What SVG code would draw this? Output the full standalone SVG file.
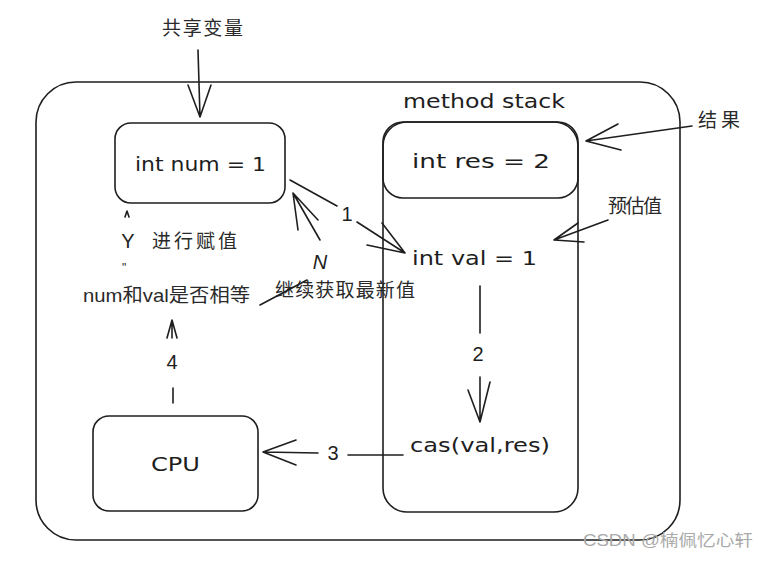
<svg xmlns="http://www.w3.org/2000/svg" width="770" height="565" viewBox="0 0 770 565">
<defs>
<style>
.box{fill:none;stroke:#1e1e1e;stroke-width:1.6}
.ln{fill:none;stroke:#1e1e1e;stroke-width:1.6;stroke-linecap:round;stroke-linejoin:round}
.t{font-family:"Liberation Sans","Noto Sans CJK SC",sans-serif;fill:#1e1e1e}
.code{font-family:"DejaVu Sans",sans-serif;font-size:20px}
.cn{font-size:19px;fill:#2a2a2a}
.lbl{font-size:20px;text-anchor:middle}
</style>
</defs>
<rect width="770" height="565" fill="#fff"/>
<g id="outer"><rect class="box" x="36" y="82" width="644" height="458" rx="40"/></g>
<g id="num"><rect class="box" x="115" y="123" width="170" height="80" rx="16"/><text class="t code" x="135" y="171" textLength="131" lengthAdjust="spacingAndGlyphs">int num = 1</text></g>
<g id="stack">
<rect class="box" x="383" y="122" width="195" height="390" rx="24"/>
<text class="t code" x="403" y="108" textLength="162" lengthAdjust="spacingAndGlyphs">method stack</text>
<text class="t code" x="412" y="265" textLength="125" lengthAdjust="spacingAndGlyphs">int val = 1</text>
<text class="t code" x="410" y="452" textLength="140" lengthAdjust="spacingAndGlyphs">cas(val,res)</text>
</g>
<g id="res"><rect class="box" x="383" y="122" width="195" height="76" rx="20"/><text class="t code" x="412" y="168" textLength="138" lengthAdjust="spacingAndGlyphs">int res = 2</text></g>
<g id="cpu"><rect class="box" x="93" y="416" width="165" height="95" rx="16"/><text class="t code" x="151" y="471" textLength="49" lengthAdjust="spacingAndGlyphs">CPU</text></g>
<g id="labels">
<text class="t cn" x="162" y="35" textLength="81">共享变量</text>
<text class="t cn" x="698" y="127" textLength="42">结果</text>
<text class="t cn" x="608" y="213" textLength="54">预估值</text>
<text class="t cn" x="152" y="248" textLength="85">进行赋值</text>
<text class="t cn" x="83" y="302" textLength="167" lengthAdjust="spacingAndGlyphs">num和val是否相等</text>
<text class="t cn" x="275" y="297" textLength="140">继续获取最新值</text>
<text class="t" x="583" y="546" textLength="170" lengthAdjust="spacingAndGlyphs" style="font-size:16px;fill:#aaa">CSDN @楠佩忆心轩</text>
</g>
<g id="connectors">
<path class="ln" d="M198 50 L200 117 M188 85 L200 117 L211 85"/>
<path class="ln" d="M692 126 L586 141 M618 124 L586 141 L621 150"/>
<path class="ln" d="M608 220 L554 240 M578 223 L554 240 L584 242"/>
<path class="ln" d="M290 180 L337 206 M357 222 L405 253 M367 245 L405 253 L382 223"/>
<text class="t lbl" x="347" y="221">1</text>
<path class="ln" d="M320 240 L293 193 M298 230 L293 193 L318 220" stroke="#555"/>
<text class="t lbl" x="320" y="269" style="font-style:italic">N</text>
<path class="ln" d="M480 286 L480 333 M480 377 L480 422 M468 390 L480 422 L490 382"/>
<text class="t lbl" x="478" y="361">2</text>
<path class="ln" d="M403 455 L348 455 M318 453 L263 452 M296 440 L263 452 L296 465" stroke="#555"/>
<text class="t lbl" x="333" y="460">3</text>
<path class="ln" d="M173 403 L173 388 M172 338 L172 320 M167 338 L172 320 L177 338"/>
<text class="t lbl" x="172" y="369">4</text>
<path class="ln" d="M125 217 L127 211 L129 217"/>
<text class="t lbl" x="128" y="248">Y</text>
<text class="t" x="122" y="272" style="font-size:12px">"</text>
<path class="ln" d="M260 305 L307 280"/>
</g>
</svg>
